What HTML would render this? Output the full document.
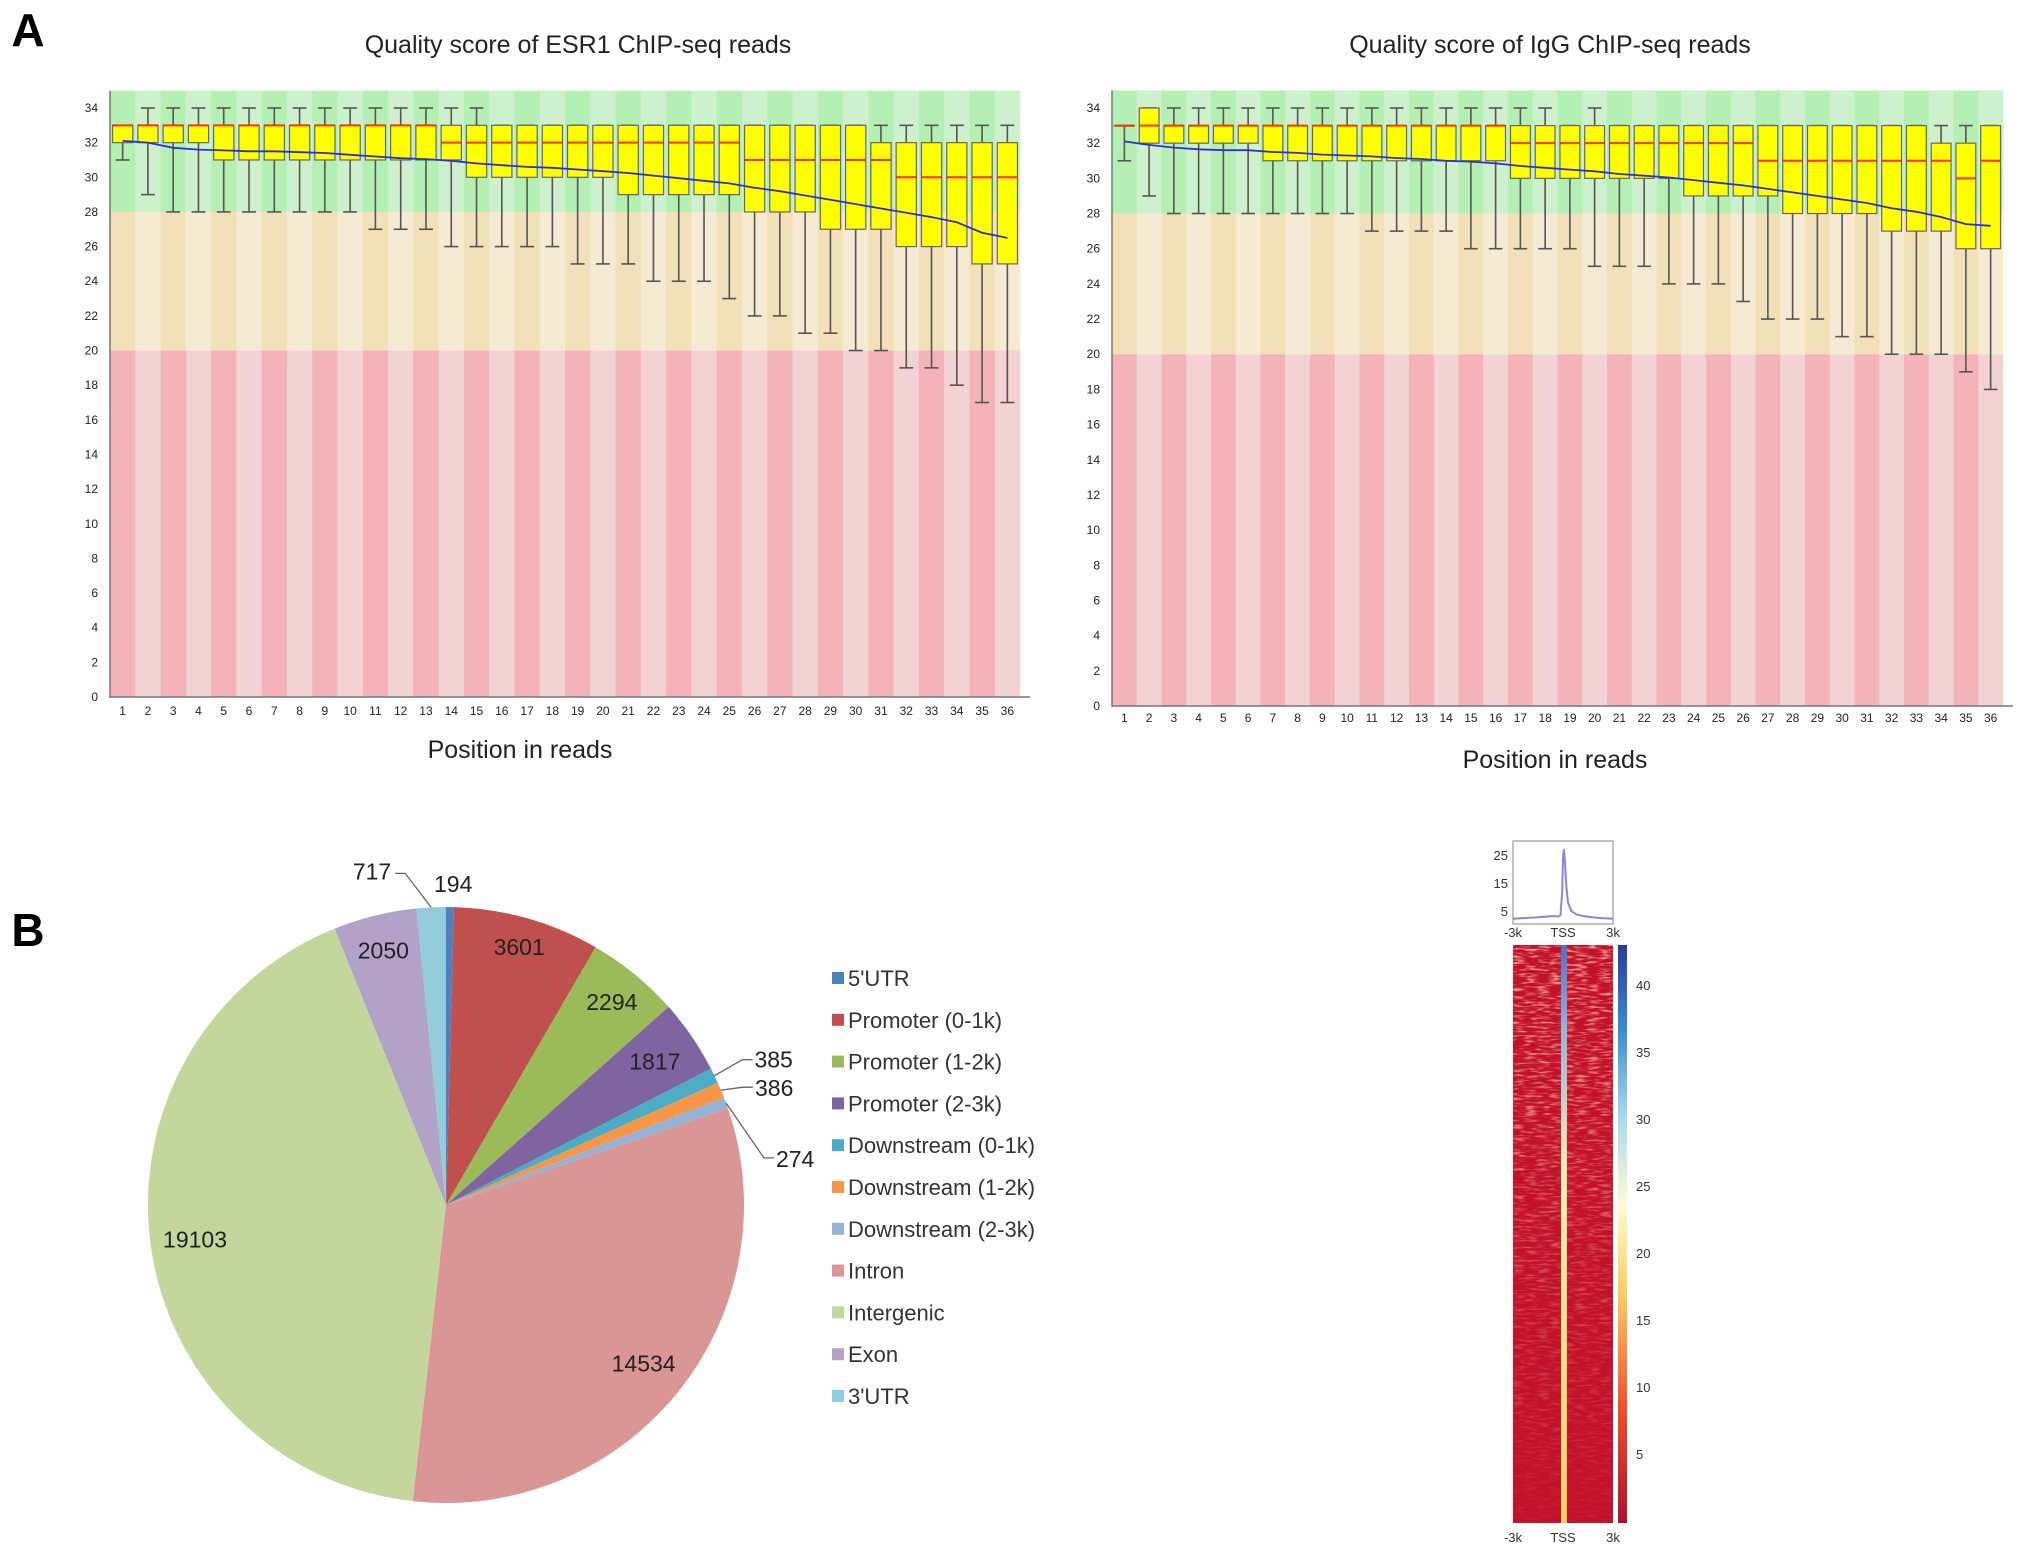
<!DOCTYPE html>
<html><head><meta charset="utf-8"><style>
html,body{margin:0;padding:0;background:#fff;}
svg{display:block;font-family:"Liberation Sans",sans-serif;}
</style></head><body>
<svg id="fig" width="2031" height="1550" viewBox="0 0 2031 1550" xmlns="http://www.w3.org/2000/svg">
<defs>
<linearGradient id="cbar" x1="0" y1="1" x2="0" y2="0">
<stop offset="0" stop-color="#b2102a"/><stop offset="0.2" stop-color="#f0502a"/><stop offset="0.4" stop-color="#fbd060"/><stop offset="0.55" stop-color="#fffbd0"/><stop offset="0.7" stop-color="#a8dcf0"/><stop offset="0.85" stop-color="#3a8ed0"/><stop offset="1" stop-color="#2a3a9c"/>
</linearGradient>
<linearGradient id="tssg" x1="0" y1="0" x2="0" y2="1">
<stop offset="0" stop-color="#5070c8"/><stop offset="0.15" stop-color="#90b8e0"/><stop offset="0.4" stop-color="#fff0b0"/><stop offset="1" stop-color="#fcd060"/>
</linearGradient>
<linearGradient id="fadeG" x1="0" y1="0" x2="0" y2="1">
<stop offset="0" stop-color="#fff" stop-opacity="0.9"/><stop offset="0.55" stop-color="#fff" stop-opacity="0.35"/><stop offset="1" stop-color="#fff" stop-opacity="0.05"/>
</linearGradient>
<mask id="fadeM"><rect x="1495" y="940" width="140" height="590" fill="url(#fadeG)"/></mask>
<filter id="streaks" x="0" y="0" width="100%" height="100%">
<feTurbulence type="fractalNoise" baseFrequency="0.08 0.45" numOctaves="2" seed="4"/>
<feColorMatrix type="matrix" values="0 0 0 0 0.97  0 0 0 0 0.55  0 0 0 0 0.35  0 0 0 3.2 -1.5"/>
</filter>
</defs>
<text x="28" y="46" font-size="46" font-weight="bold" text-anchor="middle">A</text>
<text x="28" y="946" font-size="46" font-weight="bold" text-anchor="middle">B</text>
<g id="left"></g>
<g id="right"></g>
<g id="pie"></g>
<g id="heat"></g>
</svg>
<script>
// ===== Box plot data (ESR1) =====
const esrLow  = [31,29,28,28,28,28,28,28,28,28,27,27,27,26,26,26,26,26,25,25,25,24,24,24,23,22,22,21,21,20,20,19,19,18,17,17];
const esrQ1   = [32,32,32,32,31,31,31,31,31,31,31,31,31,31,30,30,30,30,30,30,29,29,29,29,29,28,28,28,27,27,27,26,26,26,25,25];
const esrMed  = [33,33,33,33,33,33,33,33,33,33,33,33,33,32,32,32,32,32,32,32,32,32,32,32,32,31,31,31,31,31,31,30,30,30,30,30];
const esrQ3   = [33,33,33,33,33,33,33,33,33,33,33,33,33,33,33,33,33,33,33,33,33,33,33,33,33,33,33,33,33,33,32,32,32,32,32,32];
const esrHigh = [33,34,34,34,34,34,34,34,34,34,34,34,34,34,34,33,33,33,33,33,33,33,33,33,33,33,33,33,33,33,33,33,33,33,33,33];
const esrMean = [32.1,32.0,31.7,31.6,31.55,31.5,31.5,31.45,31.4,31.3,31.2,31.1,31.05,30.95,30.8,30.7,30.6,30.55,30.45,30.35,30.25,30.1,29.95,29.8,29.65,29.4,29.2,28.95,28.7,28.45,28.2,27.95,27.7,27.4,26.8,26.5];
// ===== Box plot data (IgG) =====
const iggLow  = [31,29,28,28,28,28,28,28,28,28,27,27,27,27,26,26,26,26,26,25,25,25,24,24,24,23,22,22,22,21,21,20,20,20,19,18];
const iggQ1   = [33,32,32,32,32,32,31,31,31,31,31,31,31,31,31,31,30,30,30,30,30,30,30,29,29,29,29,28,28,28,28,27,27,27,26,26];
const iggMed  = [33,33,33,33,33,33,33,33,33,33,33,33,33,33,33,33,32,32,32,32,32,32,32,32,32,32,31,31,31,31,31,31,31,31,30,31];
const iggQ3   = [33,34,33,33,33,33,33,33,33,33,33,33,33,33,33,33,33,33,33,33,33,33,33,33,33,33,33,33,33,33,33,33,33,32,32,33];
const iggHigh = [33,34,34,34,34,34,34,34,34,34,34,34,34,34,34,34,34,34,33,34,33,33,33,33,33,33,33,33,33,33,33,33,33,33,33,33];
const iggMean = [32.1,31.9,31.75,31.65,31.6,31.6,31.5,31.45,31.35,31.3,31.25,31.15,31.1,31.0,30.95,30.85,30.7,30.6,30.5,30.4,30.25,30.15,30.05,29.9,29.75,29.6,29.4,29.2,29.0,28.8,28.6,28.3,28.1,27.8,27.4,27.3];
const yTicks = [0,2,4,6,8,10,12,14,16,18,20,22,24,26,28,30,32,34];

// ===== Pie data =====
const pieCats = ["5'UTR","Promoter (0-1k)","Promoter (1-2k)","Promoter (2-3k)","Downstream (0-1k)","Downstream (1-2k)","Downstream (2-3k)","Intron","Intergenic","Exon","3'UTR"];
const pieVals = [194,3601,2294,1817,385,386,274,14534,19103,2050,717];
const pieColors = ["#4F81BD","#C0504D","#9BBB59","#8064A2","#4BACC6","#F79646","#95B3D7","#D99694","#C3D69B","#B3A2C7","#93CDDD"];

// ===== Profile / colorbar data =====
const profX = [-3,-2.5,-2,-1.5,-1,-0.5,-0.3,-0.15,-0.05,0,0.05,0.1,0.2,0.3,0.5,0.8,1.2,1.8,2.4,3];
const profY = [2.2,2.4,2.6,2.8,3.0,3.2,3.0,3.5,12,24,27,24,14,8,5,3.8,3.2,2.7,2.4,2.2];
const cbTicks = [5,10,15,20,25,30,35,40];

const NS="http://www.w3.org/2000/svg";
function mk(tag, attrs, parent, text){
  const e=document.createElementNS(NS,tag);
  for(const k in attrs) e.setAttribute(k,attrs[k]);
  if(text!==undefined) e.textContent=text;
  parent.appendChild(e); return e;
}

function boxChart(g, cfg, low,q1,med,q3,high,mean){
  const {x0,x1,y0,y34,title,tx,ty,lx,ly,xly} = cfg;
  const unit=(y0-y34)/34;
  const Y=v=>y0-v*unit;
  const n=36, cw=(x1-x0)/n;
  const X=i=>x0+cw*(i+0.5);
  const zones=[[0,20,"#f4b3b8","#f3d2d3"],[20,28,"#f1e0b8","#f4ebd2"],[28,35,"#b4f0b4","#cdf1cd"]];
  for(let i=0;i<n;i++){
    for(const z of zones){
      const r=mk('rect',{x:x0+cw*i,y:Y(z[1]),width:cw+0.3,height:Y(z[0])-Y(z[1]),fill:i%2===0?z[2]:z[3]},g);
      
      
    }
  }
  for(let i=0;i<n;i++){
    const cx=X(i), bw=cw*0.8, cap=cw*0.55;
    const bg=mk('g',{},g);
    
    
    mk('line',{x1:cx,x2:cx,y1:Y(high[i]),y2:Y(low[i]),stroke:'#555','stroke-width':1.6},bg);
    mk('line',{x1:cx-cap/2,x2:cx+cap/2,y1:Y(high[i]),y2:Y(high[i]),stroke:'#555','stroke-width':1.6},bg);
    mk('line',{x1:cx-cap/2,x2:cx+cap/2,y1:Y(low[i]),y2:Y(low[i]),stroke:'#555','stroke-width':1.6},bg);
    mk('rect',{x:cx-bw/2,y:Y(q3[i]),width:bw,height:Math.max(Y(q1[i])-Y(q3[i]),0.5),fill:'#ffff00',stroke:'#666','stroke-width':1.2},bg);
    mk('line',{x1:cx-bw/2,x2:cx+bw/2,y1:Y(med[i]),y2:Y(med[i]),stroke:'#ff3000','stroke-width':2},bg);
  }
  const pts=mean.map((v,i)=>X(i).toFixed(1)+','+Y(v).toFixed(1)).join(' ');
  const ml=mk('polyline',{points:pts,fill:'none',stroke:'#3030d0','stroke-width':1.8},g);
  
  
  mk('line',{x1:x0,x2:x0,y1:Y(35),y2:y0+1,stroke:'#777','stroke-width':1.5},g);
  mk('line',{x1:x0,x2:x1+10,y1:y0,y2:y0,stroke:'#777','stroke-width':1.5},g);
  yTicks.forEach(t=>{
    const e=mk('text',{x:x0-12,y:Y(t)+4,'font-size':12,'text-anchor':'end',fill:'#222'},g,String(t));
    
    
  });
  for(let i=0;i<n;i++){
    const e=mk('text',{x:X(i),y:xly,'font-size':12,'text-anchor':'middle',fill:'#222'},g,String(i+1));
    
    
  }
  const t=mk('text',{x:tx,y:ty,'font-size':25,'text-anchor':'middle',fill:'#222'},g,title);
  
  
  const a=mk('text',{x:lx,y:ly,'font-size':25,'text-anchor':'middle',fill:'#222'},g,'Position in reads');
  
  
}

const gl=document.getElementById('left');


boxChart(gl,{x0:110,x1:1020,y0:697,y34:108,title:'Quality score of ESR1 ChIP-seq reads',tx:578,ty:53,lx:520,ly:758,xly:715},esrLow,esrQ1,esrMed,esrQ3,esrHigh,esrMean);
const gr=document.getElementById('right');


boxChart(gr,{x0:1112,x1:2003,y0:706,y34:108,title:'Quality score of IgG ChIP-seq reads',tx:1550,ty:53,lx:1555,ly:768,xly:722},iggLow,iggQ1,iggMed,iggQ3,iggHigh,iggMean);

// ===== Pie =====
const gp=document.getElementById('pie');


const cx=446, cy=1205, R=298;
const total=pieVals.reduce((a,b)=>a+b,0);
let acc=0;
const mids=[];
pieVals.forEach((v,i)=>{
  const a0=acc/total*2*Math.PI; acc+=v; const a1=acc/total*2*Math.PI;
  mids.push((a0+a1)/2);
  const p=(a)=>[cx+R*Math.sin(a),cy-R*Math.cos(a)];
  const [sx,sy]=p(a0),[ex,ey]=p(a1);
  const large=(a1-a0)>Math.PI?1:0;
  const s=mk('path',{d:`M${cx},${cy} L${sx.toFixed(2)},${sy.toFixed(2)} A${R},${R} 0 ${large} 1 ${ex.toFixed(2)},${ey.toFixed(2)} Z`,fill:pieColors[i]},gp);
  
  
});
const insideR={1:0.9,2:0.88,3:0.85,7:0.85,8:0.85,9:0.88};
pieVals.forEach((v,i)=>{
  if(insideR[i]!==undefined){
    const r=R*insideR[i], a=mids[i];
    const e=mk('text',{x:cx+r*Math.sin(a),y:cy-r*Math.cos(a)+8,'font-size':23,'text-anchor':'middle',fill:'#222'},gp,String(v));
    
    
  }
});
const outside=[0,10,4,5,6];
outside.forEach(i=>{
  const a=mids[i];
  const ex=cx+R*Math.sin(a), ey=cy-R*Math.cos(a);
  let lx,ly,tx,ty,anchor='start';
  if(i===0){ tx=ex-16; ty=ey-15; }
  else if(i===10){ lx=ex-26; ly=ey-34; tx=lx-14; ty=ey-28; anchor='end'; }
  else if(i===4){ lx=ex+28; ly=ey-16; tx=lx+4; ty=ey-8; }
  else if(i===5){ lx=ex+22; ly=ey-3; tx=lx+4; ty=ey+6; }
  else { lx=ex+38; ly=ey+55; tx=lx+6; ty=ey+64; }
  if(i!==0){
    const pts=i===10?`${ex},${ey} ${lx},${ly} ${lx-10},${ly}`:`${ex},${ey} ${lx},${ly} ${lx+10},${ly}`;
    const l=mk('polyline',{points:pts,fill:'none',stroke:'#666','stroke-width':1.3},gp);
    
    
    if(i!==10) tx=lx+12;
  }
  const e=mk('text',{x:tx,y:ty,'font-size':23,'text-anchor':anchor,fill:'#222'},gp,String(pieVals[i]));
  
  
});
pieCats.forEach((c,i)=>{
  const y=978+i*41.8;
  const lg=mk('g',{},gp);
  
  
  mk('rect',{x:832,y:y-6,width:12,height:12,fill:pieColors[i]},lg);
  mk('text',{x:848,y:y+8,'font-size':22,fill:'#333'},lg,c);
});

// ===== Heatmap panel =====
const gh=document.getElementById('heat');


const hx0=1513,hx1=1613,hy0=945,hy1=1523;
const HX=v=>hx0+(v+3)/6*(hx1-hx0);
const py0=925, pu=2.8;
const pb=mk('rect',{x:hx0,y:841,width:hx1-hx0,height:83,fill:'#fff',stroke:'#999','stroke-width':1.2},gh);


const pl=mk('polyline',{points:profX.map((x,i)=>HX(x).toFixed(1)+','+(py0-profY[i]*pu).toFixed(1)).join(' '),fill:'none',stroke:'#8c86e0','stroke-width':2},gh);


[[5,'5'],[15,'15'],[25,'25']].forEach(t=>{
  const e=mk('text',{x:hx0-5,y:py0-t[0]*pu+5,'font-size':13,'text-anchor':'end',fill:'#333'},gh,t[1]);
  
  
});
[['-3k',-3],['TSS',0],['3k',3]].forEach(t=>{
  const e=mk('text',{x:HX(t[1]),y:937,'font-size':13,'text-anchor':'middle',fill:'#333'},gh,t[0]);
  
  
  const e2=mk('text',{x:HX(t[1]),y:1542,'font-size':13,'text-anchor':'middle',fill:'#333'},gh,t[0]);
  
  
});
const hm=mk('rect',{x:hx0,y:hy0,width:hx1-hx0,height:hy1-hy0,fill:'#c3112c'},gh);


const hn=mk('rect',{x:hx0,y:hy0,width:hx1-hx0,height:hy1-hy0,filter:'url(#streaks)',mask:'url(#fadeM)'},gh);


const ts=mk('rect',{x:HX(0)-2,y:hy0,width:6,height:hy1-hy0,fill:'url(#tssg)'},gh);


const cb=mk('rect',{x:1618,y:hy0,width:9,height:hy1-hy0,fill:'url(#cbar)'},gh);


const CB=v=>1521-v*13.4;
cbTicks.forEach(t=>{
  const e=mk('text',{x:1636,y:CB(t)+5,'font-size':13,fill:'#333'},gh,String(t));
  
  
});
</script>
</body></html>
